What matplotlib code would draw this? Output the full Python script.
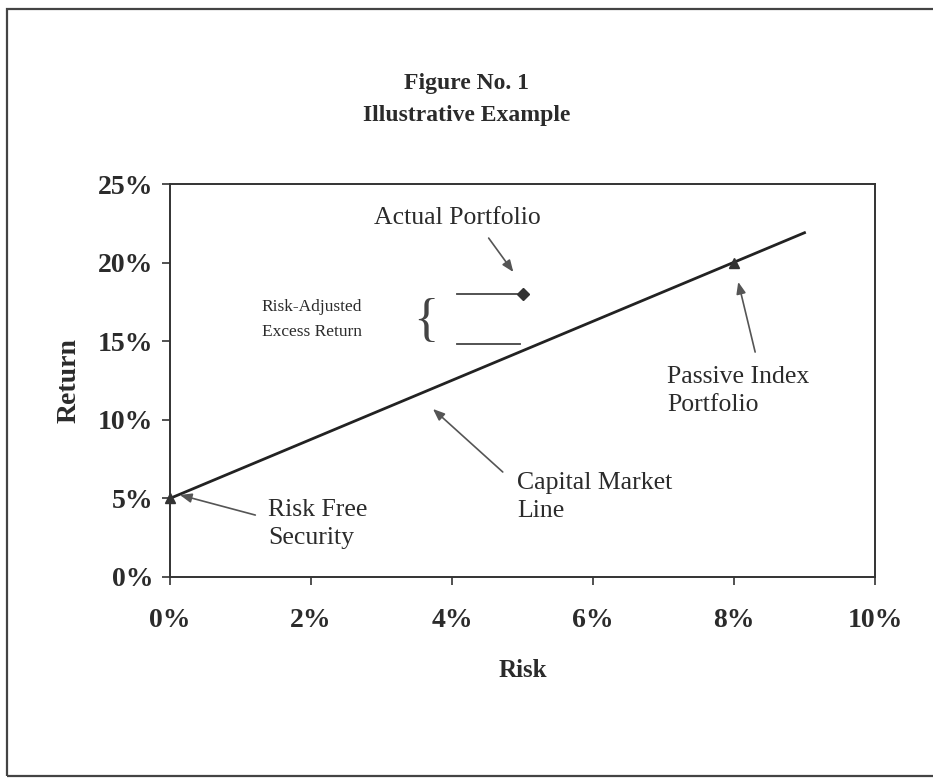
import matplotlib
matplotlib.use("Agg")
import matplotlib.pyplot as plt
from matplotlib.patches import Rectangle

# ---- data ----
x_ticks = [0, 2, 4, 6, 8, 10]
y_ticks = [0, 5, 10, 15, 20, 25]
cml_risk = [0, 9]
cml_return = [5, 21.9]
point_names = ["Risk Free Security", "Passive Index Portfolio"]
point_risk = [0, 8]
point_return = [5, 20]
actual_risk = [5]
actual_return = [18]
upper_line_risk = [4.07, 4.92]
upper_line_return = [18, 18]
lower_line_risk = [4.07, 4.96]
lower_line_return = [14.85, 14.85]

TXT = "#2b2b2b"
LINE = "#222222"
ARR = "#555555"
serif = ["Liberation Serif", "DejaVu Serif"]

fig = plt.figure(figsize=(9.33, 7.8), dpi=100)
ax = fig.add_axes([170/933, 1-577/780, (875-170)/933, (577-184)/780])

# figure border
fig.patches.append(Rectangle((7/933, 4/780), 1.2, 1-13/780, transform=fig.transFigure,
                             fill=False, ec="#444444", lw=1.6))

ax.plot(cml_risk, cml_return, color=LINE, lw=2.0, zorder=3)
ax.plot(point_risk, point_return, ls="none", marker="^", ms=6.5, color="#333333",
        clip_on=False, zorder=4)
ax.plot(actual_risk, actual_return, ls="none", marker="D", ms=6, color="#333333",
        clip_on=False, zorder=4)
ax.plot(upper_line_risk, upper_line_return, color="#444444", lw=1.3)
ax.plot(lower_line_risk, lower_line_return, color="#444444", lw=1.3)

ax.set_xlim(0, 10)
ax.set_ylim(0, 25)
ax.set_xticks(x_ticks)
ax.set_yticks(y_ticks)
ax.set_xticklabels([f"{v}%" for v in x_ticks])
ax.set_yticklabels([f"{v}%" for v in y_ticks])
for lab in ax.get_xticklabels() + ax.get_yticklabels():
    lab.set_fontfamily(serif)
    lab.set_fontweight("bold")
    lab.set_fontsize(20)
    lab.set_color(TXT)
ax.tick_params(axis="y", direction="out", length=6, width=1.2, pad=6, color="#333333")
ax.tick_params(axis="x", direction="out", length=6, width=1.2, pad=16, color="#333333")
for s in ax.spines.values():
    s.set_color("#333333")
    s.set_linewidth(1.4)

ax.set_ylabel("Return", fontfamily=serif, fontweight="bold", fontsize=20, color=TXT, labelpad=12)
ax.set_xlabel("Risk", fontfamily=serif, fontweight="bold", fontsize=18, color=TXT, labelpad=19)

fig.text(0.5, 1-83/780, "Figure No. 1", ha="center", va="center", fontfamily=serif,
         fontweight="bold", fontsize=17, color=TXT)
fig.text(0.5, 1-115/780, "Illustrative Example", ha="center", va="center", fontfamily=serif,
         fontweight="bold", fontsize=17, color=TXT)

ann_kw = dict(fontfamily=serif, fontsize=18.5, color=TXT, linespacing=1.3)
arrow = dict(arrowstyle="-|>,head_length=0.7,head_width=0.28", color=ARR, lw=1.2,
             shrinkA=0, shrinkB=0)

ax.text(4.07, 22.84, "Actual Portfolio", ha="center", va="center", **ann_kw)
ax.annotate("", xy=(4.87, 19.40), xytext=(4.52, 21.56), arrowprops=arrow)

ax.text(7.05, 11.83, "Passive Index\nPortfolio", ha="left", va="center", **ann_kw)
ax.annotate("", xy=(8.06, 18.77), xytext=(8.30, 14.31), arrowprops=arrow)

ax.text(4.92, 5.09, "Capital Market\nLine", ha="left", va="center", **ann_kw)
ax.annotate("", xy=(3.73, 10.69), xytext=(4.72, 6.68), arrowprops=arrow)

ax.text(1.39, 3.37, "Risk Free\nSecurity", ha="left", va="center", **ann_kw)
ax.annotate("", xy=(0.14, 5.22), xytext=(1.21, 3.94), arrowprops=arrow)

ax.text(1.30, 16.41, "Risk-Adjusted\nExcess Return", ha="left", va="center",
        fontfamily=serif, fontsize=12.5, color=TXT, linespacing=1.75)
ax.text(3.63, 16.2, "{", ha="center", va="center", fontfamily=serif, fontsize=38,
        color="#444444", fontweight="light")

fig.savefig("out.png", dpi=100, facecolor="white")
